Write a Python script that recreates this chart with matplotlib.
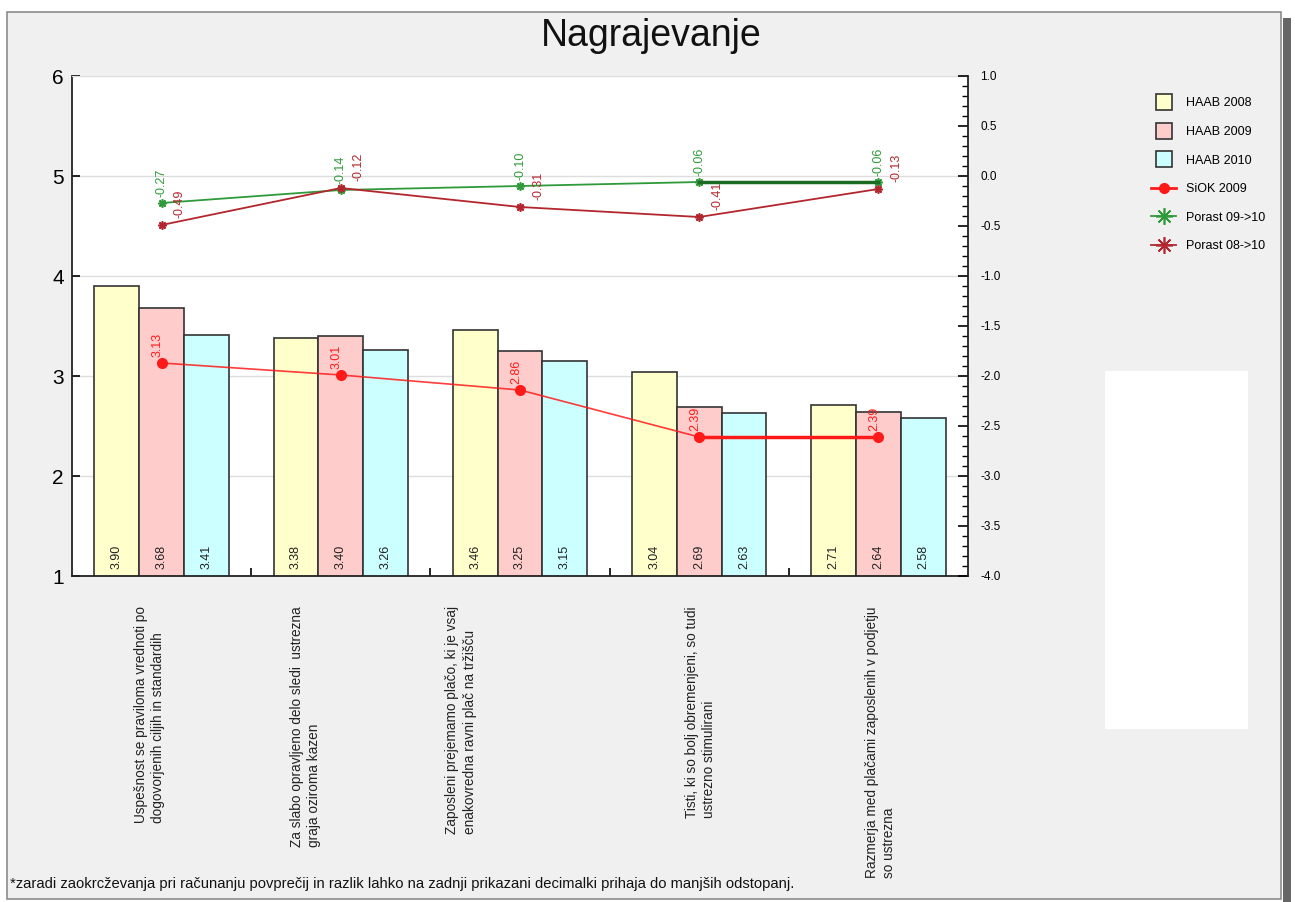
import matplotlib
matplotlib.use("Agg")
import matplotlib.pyplot as plt
from matplotlib.lines import Line2D
from matplotlib.patches import Rectangle
from matplotlib.ticker import MultipleLocator, FormatStrFormatter
import numpy as np

plt.rcParams["font.family"] = ["Liberation Sans", "DejaVu Sans"]

# podatki
categories = [
    "Uspešnost se praviloma vrednoti po\ndogovorjenih ciljih in standardih",
    "Za slabo opravljeno delo sledi  ustrezna\ngraja oziroma kazen",
    "Zaposleni prejemamo plačo, ki je vsaj\nenakovredna ravni plač na tržišču",
    "Tisti, ki so bolj obremenjeni, so tudi\nustrezno stimulirani",
    "Razmerja med plačami zaposlenih v podjetju\nso ustrezna",
]
haab_2008 = [3.90, 3.38, 3.46, 3.04, 2.71]
haab_2009 = [3.68, 3.40, 3.25, 2.69, 2.64]
haab_2010 = [3.41, 3.26, 3.15, 2.63, 2.58]
siok_2009 = [3.13, 3.01, 2.86, 2.39, 2.39]
porast_09_10 = [-0.27, -0.14, -0.10, -0.06, -0.06]
porast_08_10 = [-0.49, -0.12, -0.31, -0.41, -0.13]

series_names = ["HAAB 2008", "HAAB 2009", "HAAB 2010", "SiOK 2009", "Porast 09->10", "Porast 08->10"]
footnote = ("*zaradi zaokrcževanja pri računanju povprečij in razlik lahko na zadnji "
            "prikazani decimalki prihaja do manjših odstopanj.")

# barve
bar_colors = ["#ffffcc", "#ffcccc", "#ccffff"]
edge = "#333333"
siok_color = "#ff1a1a"
green = "#2f9a3a"
dark_green = "#1c6b22"
dark_red = "#b3262e"
star = (8, 2, 0)

W, H = 1295, 902
fig = plt.figure(figsize=(W / 100, H / 100), dpi=100, facecolor="white")

# ozadje okvirja in senca
fig.patches.append(Rectangle((1283 / W, 0), 8 / W, 1 - 18 / H, transform=fig.transFigure,
                             fc="#666666", ec="none", zorder=-3))
fig.patches.append(Rectangle((7 / W, 3 / H), 1274 / W, 887 / H, transform=fig.transFigure,
                             fc="#f0f0f0", ec="#8c8c8c", lw=1.2, zorder=-2))
fig.patches.append(Rectangle((1105 / W, 1 - 729 / H), 143 / W, 358 / H, transform=fig.transFigure,
                             fc="white", ec="none", zorder=-1))

ax = fig.add_axes([72 / W, 1 - 576 / H, 896 / W, 500 / H])
ax.set_facecolor("white")
x = np.arange(len(categories))
width = 0.25

for vals, off, col in zip([haab_2008, haab_2009, haab_2010], [-width, 0, width], bar_colors):
    ax.bar(x + off, vals, width, color=col, edgecolor=edge, linewidth=1.2, zorder=2)
    for xi, v in zip(x, vals):
        ax.annotate(f"{v:.2f}", xy=(xi + off, 1), xytext=(0, 7), textcoords="offset pixels",
                    rotation=90, ha="center", va="bottom", fontsize=9, color="#222222", zorder=5)

# SiOK 2009 na levi osi
ax.plot(x, siok_2009, color=siok_color, lw=1.2, alpha=0.85, zorder=4)
ax.plot(x[3:], siok_2009[3:], color=siok_color, lw=2.5, zorder=4)
ax.plot(x, siok_2009, ls="none", marker="o", ms=7, color=siok_color, zorder=4)
for xi, v in zip(x, siok_2009):
    ax.annotate(f"{v:.2f}", xy=(xi, v), xytext=(-4, 6), textcoords="offset pixels",
                rotation=90, ha="center", va="bottom", fontsize=9, color=siok_color, zorder=5)

ax.set_xlim(-0.5, len(categories) - 0.5)
ax.set_ylim(1, 6)
ax.set_yticks(range(1, 7))
ax.yaxis.grid(True, color="#dddddd", lw=1)
ax.set_axisbelow(True)
ax.tick_params(axis="y", direction="in", length=6, width=1.2, labelsize=15, pad=6)
ax.set_xticks(x[:-1] + 0.5)
ax.set_xticklabels([])
ax.tick_params(axis="x", direction="in", length=6, width=1.2)
ax.spines["top"].set_color("#dddddd")
ax.spines["right"].set_visible(False)
for s in ["left", "bottom"]:
    ax.spines[s].set_linewidth(1.3)
    ax.spines[s].set_color("#222222")

# opisi kategorij pod osjo
label_shift = [-12, -35, -59, 1, 2]
for xi, lab, dx in zip(x, categories, label_shift):
    ax.annotate(lab, xy=(xi, 0), xycoords=("data", "axes fraction"), xytext=(dx, -30),
                textcoords="offset pixels", rotation=90, ha="center", va="top",
                multialignment="left", fontsize=9.8, linespacing=1.3, color="#222222",
                annotation_clip=False)

# porast na desni osi
ax2 = ax.twinx()
ax2.plot(x, porast_09_10, color=green, lw=1.3, marker=star, ms=6, mew=1.2, zorder=3)
ax2.plot(x[3:], porast_09_10[3:], color=dark_green, lw=2.5, zorder=3)
ax2.plot(x, porast_08_10, color=dark_red, lw=1.3, marker=star, ms=6, mew=1.2, zorder=3)
for xi, v in zip(x, porast_09_10):
    ax2.annotate(f"{v:.2f}", xy=(xi, v), xytext=(0, 6), textcoords="offset pixels",
                 rotation=90, ha="center", va="bottom", fontsize=9, color=green)
for xi, v in zip(x, porast_08_10):
    ax2.annotate(f"{v:.2f}", xy=(xi, v), xytext=(18, 7), textcoords="offset pixels",
                 rotation=90, ha="center", va="bottom", fontsize=9, color=dark_red)

ax2.set_ylim(-4, 1)
ax2.yaxis.set_major_locator(MultipleLocator(0.5))
ax2.yaxis.set_minor_locator(MultipleLocator(0.1))
ax2.yaxis.set_major_formatter(FormatStrFormatter("%.1f"))
ax2.tick_params(axis="y", which="major", direction="in", length=7, width=1.2, labelsize=8.5, pad=9)
ax2.tick_params(axis="y", which="minor", direction="in", length=4, width=1.0)
ax2.spines["right"].set_linewidth(1.3)
ax2.spines["right"].set_color("#222222")
for s in ["left", "top", "bottom"]:
    ax2.spines[s].set_visible(False)

# legenda
handles = [Line2D([], [], ls="none", marker="s", ms=11, mfc=c, mec=edge, mew=1.2) for c in bar_colors]
handles += [
    Line2D([], [], color=siok_color, lw=2, marker="o", ms=7),
    Line2D([], [], color=green, lw=1.3, marker=star, ms=12, mew=1.2),
    Line2D([], [], color=dark_red, lw=1.3, marker=star, ms=12, mew=1.2),
]
fig.legend(handles, series_names, loc="upper left", bbox_to_anchor=(1140 / W, 1 - 86 / H),
           frameon=False, fontsize=9, labelspacing=1.33, handlelength=2.0, handletextpad=0.8)

fig.text(0.503, 1 - 36 / H, "Nagrajevanje", ha="center", va="center", fontsize=27, color="#111111")
fig.text(10 / W, 1 - 888 / H, footnote, ha="left", va="baseline", fontsize=10.6, color="#111111")

fig.savefig("out.png", dpi=100, facecolor=fig.get_facecolor())
